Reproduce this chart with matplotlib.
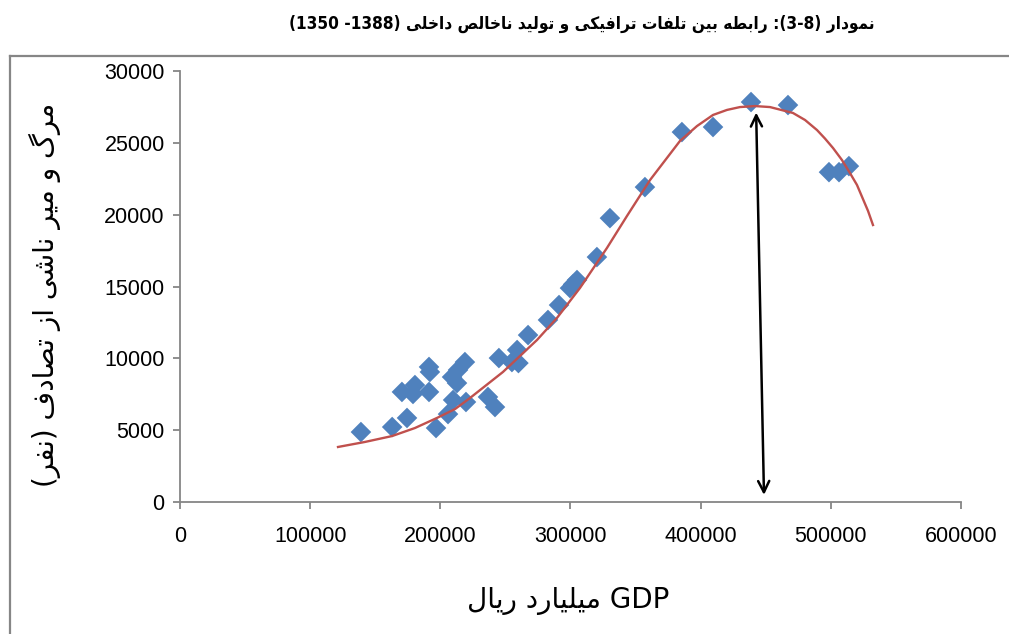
import numpy as np
import matplotlib
matplotlib.use("Agg")
import matplotlib.pyplot as plt
from matplotlib.lines import Line2D

# GDP (billion rials) vs road deaths
gdp = [139000, 163000, 174400, 170500, 179000, 180500, 191300, 191300, 192000,
       196700, 205900, 209800, 209000, 212800, 213600, 218900, 219700, 236600,
       242000, 245000, 255000, 259000, 260000, 267400, 282700, 291200, 299600,
       302000, 305000, 320300, 330300, 357200, 385600, 409500, 438700, 467100,
       498600, 506300, 513900]
deaths = [4870, 5220, 5850, 7660, 7520, 8140, 7660, 9400, 9050,
          5150, 6120, 7100, 8700, 8280, 9190, 9740, 6960, 7310,
          6610, 10020, 9740, 10580, 9670, 11620, 12670, 13710, 14890,
          15150, 15450, 17050, 19760, 21920, 25750, 26100, 27840, 27630,
          22960, 22960, 23380]
# polynomial trendline as drawn in the chart
trend_x = [121400, 142100, 162900, 180500, 197400, 211300, 222800, 248100,
           274300, 289600, 307300, 328000, 343400, 361100, 384100, 397200,
           409500, 420200, 430200, 441700, 453300, 470900, 480200, 489400,
           495500, 501700, 508600, 514700, 520100, 524700, 528600, 532400]
trend_y = [3830, 4180, 4590, 5150, 5850, 6470, 7240, 9050,
           11280, 12810, 14900, 17680, 19910, 22410, 25130, 26170,
           26940, 27290, 27490, 27560, 27490, 27080, 26590, 25890,
           25300, 24640, 23800, 22900, 22070, 21090, 20260, 19280]
peak_arrow = [(442600, 27300), (448700, 300)]
xticks = [0, 100000, 200000, 300000, 400000, 500000, 600000]
yticks = [0, 5000, 10000, 15000, 20000, 25000, 30000]

# minimal Persian shaping: matplotlib has no bidi/joining support
FORMS = {
    "ا": ("\ufe8d", "\ufe8e"), "آ": ("\ufe81", "\ufe82"),
    "د": ("\ufea9", "\ufeaa"), "ذ": ("\ufeab", "\ufeac"),
    "ر": ("\ufead", "\ufeae"), "ز": ("\ufeaf", "\ufeb0"),
    "و": ("\ufeed", "\ufeee"), "ژ": ("\ufb8a", "\ufb8b"),
    "ب": ("\ufe8f", "\ufe90", "\ufe91", "\ufe92"),
    "ت": ("\ufe95", "\ufe96", "\ufe97", "\ufe98"),
    "ث": ("\ufe99", "\ufe9a", "\ufe9b", "\ufe9c"),
    "ج": ("\ufe9d", "\ufe9e", "\ufe9f", "\ufea0"),
    "ح": ("\ufea1", "\ufea2", "\ufea3", "\ufea4"),
    "خ": ("\ufea5", "\ufea6", "\ufea7", "\ufea8"),
    "س": ("\ufeb1", "\ufeb2", "\ufeb3", "\ufeb4"),
    "ش": ("\ufeb5", "\ufeb6", "\ufeb7", "\ufeb8"),
    "ص": ("\ufeb9", "\ufeba", "\ufebb", "\ufebc"),
    "ض": ("\ufebd", "\ufebe", "\ufebf", "\ufec0"),
    "ط": ("\ufec1", "\ufec2", "\ufec3", "\ufec4"),
    "ظ": ("\ufec5", "\ufec6", "\ufec7", "\ufec8"),
    "ع": ("\ufec9", "\ufeca", "\ufecb", "\ufecc"),
    "غ": ("\ufecd", "\ufece", "\ufecf", "\ufed0"),
    "ف": ("\ufed1", "\ufed2", "\ufed3", "\ufed4"),
    "ق": ("\ufed5", "\ufed6", "\ufed7", "\ufed8"),
    "ک": ("\ufb8e", "\ufb8f", "\ufb90", "\ufb91"),
    "گ": ("\ufb92", "\ufb93", "\ufb94", "\ufb95"),
    "ل": ("\ufedd", "\ufede", "\ufedf", "\ufee0"),
    "م": ("\ufee1", "\ufee2", "\ufee3", "\ufee4"),
    "ن": ("\ufee5", "\ufee6", "\ufee7", "\ufee8"),
    "ه": ("\ufee9", "\ufeea", "\ufeeb", "\ufeec"),
    "ی": ("\ufbfc", "\ufbfd", "\ufbfe", "\ufbff"),
    "پ": ("\ufb56", "\ufb57", "\ufb58", "\ufb59"),
    "چ": ("\ufb7a", "\ufb7b", "\ufb7c", "\ufb7d"),
}


def fa(text):
    out = []
    for i, c in enumerate(text):
        f = FORMS.get(c)
        if f is None:
            out.append(c)
            continue
        prev = text[i - 1] if i > 0 else ""
        nxt = text[i + 1] if i + 1 < len(text) else ""
        jp = prev in FORMS and len(FORMS[prev]) == 4
        jn = len(f) == 4 and nxt in FORMS
        if jp and jn:
            out.append(f[3])
        elif jp:
            out.append(f[1])
        elif jn:
            out.append(f[2])
        else:
            out.append(f[0])
    vis = "".join(reversed(out))
    return vis.translate(str.maketrans("()", ")("))


title = "(1350 -1388) " + fa("رابطه بین تلفات ترافیکی و تولید ناخالص داخلی") + " :(3-8) " + fa("نمودار")
xlabel = fa("میلیارد ریال") + " GDP"
ylabel = fa("مرگ و میر ناشی از تصادف (نفر)")

fig = plt.figure(figsize=(10.09, 6.34), dpi=100)
ax = fig.add_axes([0.1784, 0.2082, 0.7740, 0.6798])

ax.scatter(gdp, deaths, marker="D", s=110, color="#4F81BD", edgecolors="none", zorder=3)
ax.plot(trend_x, trend_y, color="#C0504D", lw=1.7, zorder=4, solid_joinstyle="round")

ax.annotate("", xy=peak_arrow[0], xytext=peak_arrow[1],
            arrowprops=dict(arrowstyle="<->", color="black", lw=1.8, mutation_scale=20),
            zorder=5)

ax.set_xlim(0, 600000)
ax.set_ylim(0, 30000)
ax.set_xticks(xticks)
ax.set_yticks(yticks)
ax.set_xticklabels([str(v) for v in xticks])
ax.set_yticklabels([str(v) for v in yticks])
for s in ["top", "right"]:
    ax.spines[s].set_visible(False)
for s in ["left", "bottom"]:
    ax.spines[s].set_color("#868686")
    ax.spines[s].set_linewidth(1.3)
ax.tick_params(axis="both", colors="#868686", width=1.3, length=5, labelcolor="black",
               labelsize=15.5, pad=6)
ax.tick_params(axis="x", pad=12)
for lbl in ax.get_xticklabels() + ax.get_yticklabels():
    lbl.set_fontfamily("Liberation Sans")

fig.text(0.577, 0.962, title, ha="center", va="center", fontsize=12.3,
         fontweight="bold", fontstretch="condensed", family="DejaVu Sans")
fig.text(0.563, 0.052, xlabel, ha="center", va="center", fontsize=20, family="DejaVu Sans")
fig.text(0.045, 0.535, ylabel, ha="center", va="center", rotation=90, fontsize=20,
         family="DejaVu Sans")

# chart-area border (runs off the right and bottom edges)
fig.add_artist(Line2D([10 / 1009, 1.01], [1 - 56 / 634] * 2, transform=fig.transFigure,
                      color="#868686", lw=1.6))
fig.add_artist(Line2D([10 / 1009] * 2, [1 - 56 / 634, -0.01], transform=fig.transFigure,
                      color="#868686", lw=1.6))

fig.savefig("out.png", dpi=100)
